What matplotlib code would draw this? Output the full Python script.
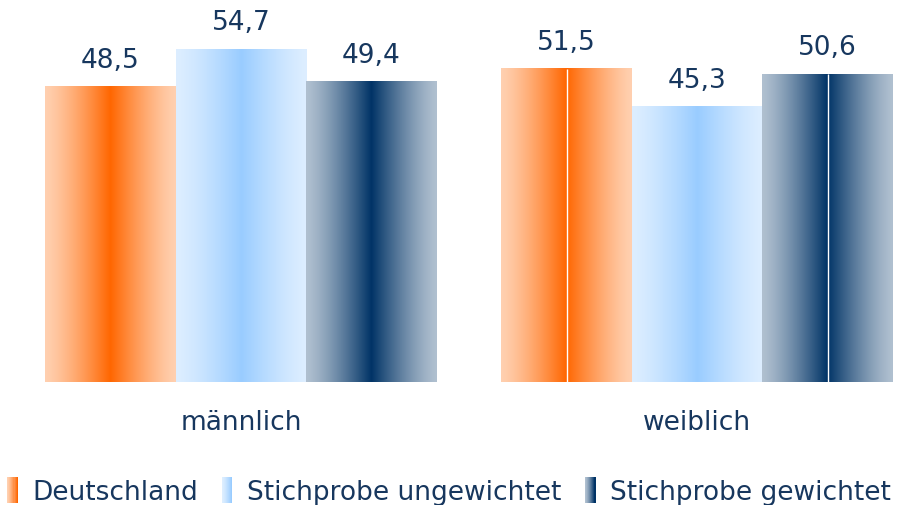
import numpy as np
import matplotlib
matplotlib.use("Agg")
import matplotlib.pyplot as plt
from matplotlib.colors import to_rgb
from matplotlib.patches import Rectangle
from matplotlib.legend_handler import HandlerBase

categories = ["männlich", "weiblich"]
series_names = ["Deutschland", "Stichprobe ungewichtet", "Stichprobe gewichtet"]
deutschland = [48.5, 51.5]
ungewichtet = [54.7, 45.3]
gewichtet = [49.4, 50.6]
values = [deutschland, ungewichtet, gewichtet]
labels = [["48,5", "51,5"], ["54,7", "45,3"], ["49,4", "50,6"]]
# thin white seam visible in the middle of some bars in the original
seam = [[False, True], [False, False], [False, True]]

edge_cols = ["#FFD0B0", "#DDEEFF", "#B0C0D0"]
center_cols = ["#FF6600", "#99CCFF", "#003366"]
text_col = "#17375E"

def grad_row(edge, center, n=200, half=False):
    e = np.array(to_rgb(edge)); c = np.array(to_rgb(center))
    if half:
        t = np.linspace(0, 1, n)
    else:
        x = np.linspace(-1, 1, n)
        t = 1 - np.abs(x)
    t = t ** 1.3
    return (e[None, :] * (1 - t[:, None]) + c[None, :] * t[:, None])

fig = plt.figure(figsize=(8.98, 5.06), dpi=100)
ax = fig.add_axes([0, (506 - 383) / 506, 1, 365 / 506])
w = 130.5 / 456
x = np.arange(len(categories))
for i, vals in enumerate(values):
    bars = ax.bar(x + (i - 1) * w, vals, width=w, color="none", edgecolor="none")
    row = grad_row(edge_cols[i], center_cols[i])
    for j, (b, lab) in enumerate(zip(bars, labels[i])):
        x0, y0 = b.get_x(), b.get_y()
        ax.imshow(row[None, :, :], extent=[x0, x0 + b.get_width(), y0, y0 + b.get_height()],
                  aspect="auto", interpolation="bilinear", zorder=2)
        if seam[i][j]:
            ax.vlines(x0 + b.get_width() / 2, y0, y0 + b.get_height(), color="white",
                      linewidth=1.0, zorder=3)
        ax.annotate(lab, (x0 + b.get_width() / 2, b.get_height()), xytext=(0, 10),
                    textcoords="offset points", ha="center", va="bottom",
                    fontsize=19, color=text_col)

ax.set_xlim(-241 / 456, 1 + (898 - 697) / 456)
ax.set_ylim(0, 60)
ax.axis("off")

for xi, cat in zip(x, categories):
    ax.annotate(cat, (xi, 0), xytext=(0, -29), textcoords="offset points",
                ha="center", va="center", fontsize=19, color=text_col)

class GradHandler(HandlerBase):
    def __init__(self, edge, center):
        super().__init__()
        self.edge, self.center = edge, center
    def create_artists(self, legend, orig_handle, xdescent, ydescent, width, height, fontsize, trans):
        n = 10
        row = grad_row(self.edge, self.center, n, half=True)
        arts = []
        sw = width / n
        for k in range(n):
            r = Rectangle((-xdescent + k * sw, -ydescent - 2), sw * 1.05, height + 4,
                          facecolor=row[k], edgecolor="none", transform=trans)
            arts.append(r)
        return arts

handles = [Rectangle((0, 0), 1, 1) for _ in series_names]
hmap = {h: GradHandler(edge_cols[i], center_cols[i]) for i, h in enumerate(handles)}
leg = fig.legend(handles, series_names, handler_map=hmap, loc="center",
                 bbox_to_anchor=(0.5, (506 - 493) / 506), ncol=3, frameon=False,
                 fontsize=19, handlelength=0.4, handleheight=0.8, handletextpad=0.55,
                 columnspacing=0.9, borderpad=0)
for t in leg.get_texts():
    t.set_color(text_col)

fig.savefig("out.png", dpi=100)
